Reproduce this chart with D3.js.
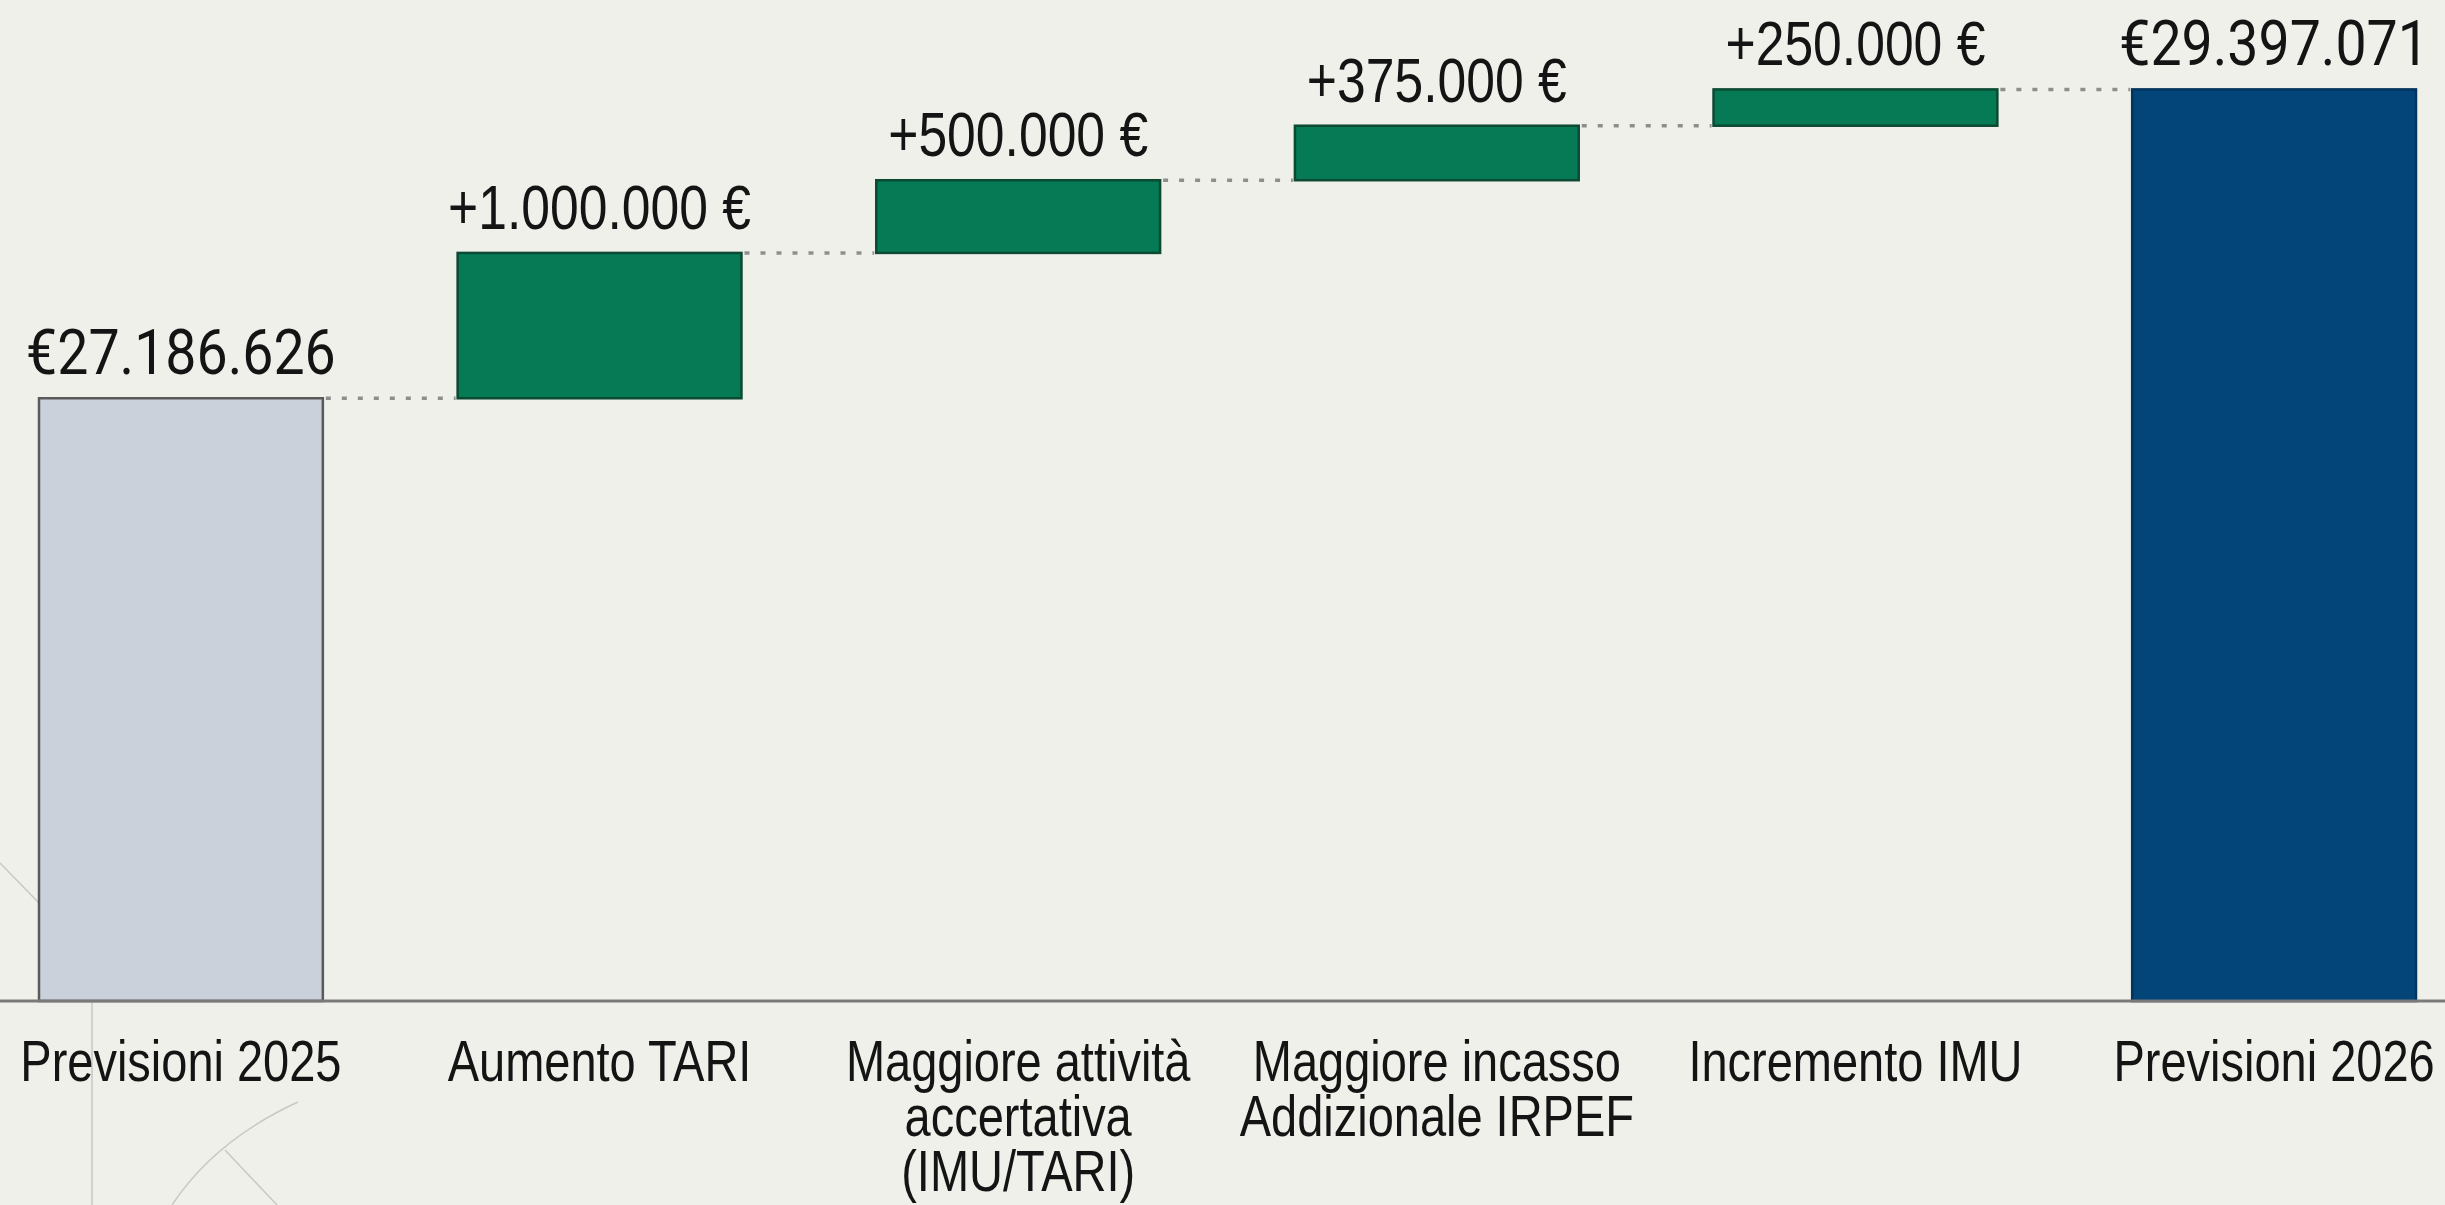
<!DOCTYPE html>
<html>
<head>
<meta charset="utf-8">
<script src="https://cdn.jsdelivr.net/npm/d3@7/dist/d3.min.js"></script>
<style>
  html, body { margin: 0; padding: 0; background: #f0f0eb; }
  svg { display: block; }
</style>
</head>
<body>
<script>
// ---- DATA ----
const categories = [
  "Previsioni 2025",
  "Aumento TARI",
  "Maggiore attività accertativa (IMU/TARI)",
  "Maggiore incasso Addizionale IRPEF",
  "Incremento IMU",
  "Previsioni 2026"
];
const categoryLines = [
  ["Previsioni 2025"],
  ["Aumento TARI"],
  ["Maggiore attività", "accertativa", "(IMU/TARI)"],
  ["Maggiore incasso", "Addizionale IRPEF"],
  ["Incremento IMU"],
  ["Previsioni 2026"]
];
const barTypes = ["base", "delta", "delta", "delta", "delta", "total"];
const values = [27186626, 1000000, 500000, 375000, 250000, 29397071];
const valueLabels = ["€27.186.626", "+1.000.000 €", "+500.000 €", "+375.000 €", "+250.000 €", "€29.397.071"];
const yDomain = [23040000, 29500000];

// ---- LAYOUT ----
const W = 2445, H = 1205;
const colors = {
  base:  { fill: "#cbd1da", stroke: "#5a5a5a" },
  delta: { fill: "#057a55", stroke: "#0c4a33" },
  total: { fill: "#034578", stroke: "#02345c" }
};
const narrowFont = "'Liberation Sans', Arial, sans-serif";
const totalFont = "Roboto, 'Noto Sans', sans-serif";

const svg = d3.select("body").append("svg")
  .attr("width", W).attr("height", H)
  .style("background", "#f0f0eb");

// faint decorative lines (background watermark)
const deco = svg.append("g").attr("fill", "none").attr("stroke", "#c9c9c2").attr("stroke-width", 1.5);
deco.append("line").attr("x1", 92).attr("y1", 1003).attr("x2", 92).attr("y2", H);
deco.append("line").attr("x1", 0).attr("y1", 863).attr("x2", 39).attr("y2", 903);
deco.append("path").attr("d", "M298,1102 Q215,1140 172,1205");
deco.append("line").attr("x1", 225).attr("y1", 1150).attr("x2", 277).attr("y2", 1205);

const x = d3.scaleBand().domain(categories).range([39, 2416]).paddingInner(0.322).paddingOuter(0);
const y = d3.scaleLinear().domain(yDomain).range([1001, 62]);

// waterfall computation
let running = 0;
const bars = categories.map((c, i) => {
  const t = barTypes[i];
  let lo, hi;
  if (t === "base") { lo = yDomain[0]; hi = values[i]; running = values[i]; }
  else if (t === "delta") { lo = running; hi = running + values[i]; running = hi; }
  else { lo = yDomain[0]; hi = running; }
  return { cat: c, type: t, lo, hi, end: running, label: valueLabels[i], lines: categoryLines[i] };
});

// connectors
const conn = svg.append("g");
bars.slice(0, -1).forEach((b, i) => {
  const yy = y(b.end);
  conn.append("line")
    .attr("x1", x(b.cat) + x.bandwidth() + 3).attr("x2", x(bars[i + 1].cat) - 2)
    .attr("y1", yy).attr("y2", yy)
    .attr("stroke", "#8e8e8e").attr("stroke-width", 3.5)
    .attr("stroke-dasharray", "5,11");
});

// bars
svg.append("g").selectAll("rect").data(bars).join("rect")
  .attr("x", d => x(d.cat))
  .attr("y", d => y(d.hi))
  .attr("width", x.bandwidth())
  .attr("height", d => y(d.lo) - y(d.hi))
  .attr("fill", d => colors[d.type].fill)
  .attr("stroke", d => colors[d.type].stroke)
  .attr("stroke-width", 2.5);

// baseline
svg.append("line")
  .attr("x1", 0).attr("x2", W)
  .attr("y1", y(yDomain[0])).attr("y2", y(yDomain[0]))
  .attr("stroke", "#7a7a7a").attr("stroke-width", 3);

// value labels
svg.append("g").selectAll("text").data(bars).join("text")
  .attr("transform", d => `translate(${x(d.cat) + x.bandwidth() / 2},${y(d.hi) - 24}) scale(${d.type === "delta" ? 0.82 : 0.88},1)`)
  .attr("text-anchor", "middle")
  .attr("font-family", d => d.type === "delta" ? narrowFont : totalFont)
  .attr("font-size", 63)
  .attr("fill", "#141414")
  .text(d => d.label);

// category labels
const cl = svg.append("g").selectAll("text").data(bars).join("text")
  .attr("text-anchor", "middle")
  .attr("font-family", narrowFont)
  .attr("font-size", 58)
  .attr("fill", "#141414")
  .attr("transform", d => `translate(${x(d.cat) + x.bandwidth() / 2},1081) scale(0.81,1)`);
cl.selectAll("tspan").data(d => d.lines)
  .join("tspan")
  .attr("x", 0)
  .attr("dy", (d, i) => i === 0 ? 0 : 55)
  .text(d => d);
</script>
</body>
</html>
